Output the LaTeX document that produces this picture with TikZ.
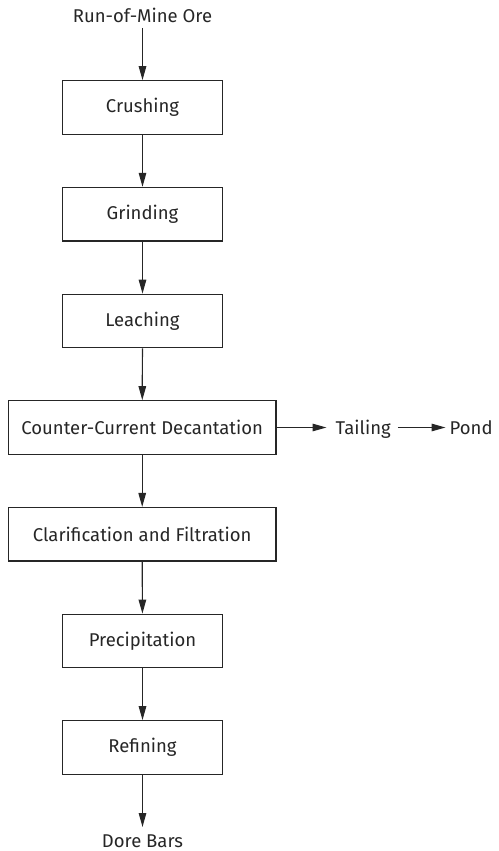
\documentclass[tikz,border=0pt]{standalone}
\usepackage{fontspec}
\setmainfont{Fira Sans}
\usetikzlibrary{arrows.meta}
\begin{document}
\begin{tikzpicture}[x=1pt,y=-1pt,
  txt/.style={font=\fontsize{18.5}{20}\selectfont,text=black!85},
  proc/.style={txt,draw=black!85,line width=1.2pt,minimum height=53.5pt,inner sep=0pt},
  narrow/.style={proc,minimum width=160.5pt},
  wide/.style={proc,minimum width=267.5pt},
  lbl/.style={txt,inner sep=0pt},
  flow/.style={draw=black!85,line width=1.2pt,-{Triangle[length=14pt,width=7.5pt]}}]
\useasboundingbox (0,0) rectangle (498,851);
\node[lbl] (ore) at (142.5,15) {Run-of-Mine Ore};
\node[narrow] (crush) at (142.5,107.5) {Crushing};
\node[narrow] (grind) at (142.5,214.2) {Grinding};
\node[narrow] (leach) at (142.5,321) {Leaching};
\node[wide] (ccd) at (142.2,427.5) {Counter-Current Decantation};
\node[wide] (clar) at (142.2,534.3) {Clarification and Filtration};
\node[narrow] (prec) at (142.5,641) {Precipitation};
\node[narrow] (ref) at (142.5,747.5) {Refining};
\node[lbl] (dore) at (142.5,841.5) {Dore Bars};
\node[lbl,anchor=base west] (tail) at (335.5,434) {Tailing};
\node[lbl,anchor=base west] (pond) at (449.5,434) {Pond};
% entry and exit points of the open-ended flows
\coordinate (oreb) at (142.5,28);
\coordinate (doret) at (142.5,827);
\coordinate (tailtip) at ([xshift=-9pt]tail.west |- ccd.east);
\coordinate (tailend) at ([xshift=7pt]tail.east |- ccd.east);
\coordinate (pondtip) at ([xshift=-4pt]pond.west |- ccd.east);
\draw[flow] (oreb) -- (crush);
\draw[flow] (crush) -- (grind);
\draw[flow] (grind) -- (leach);
\draw[flow] (leach) -- (ccd);
\draw[flow] (ccd) -- (clar);
\draw[flow] (clar) -- (prec);
\draw[flow] (prec) -- (ref);
\draw[flow] (ref) -- (doret);
\draw[flow] (ccd.east) -- (tailtip);
\draw[flow] (tailend) -- (pondtip);
\end{tikzpicture}
\end{document}
